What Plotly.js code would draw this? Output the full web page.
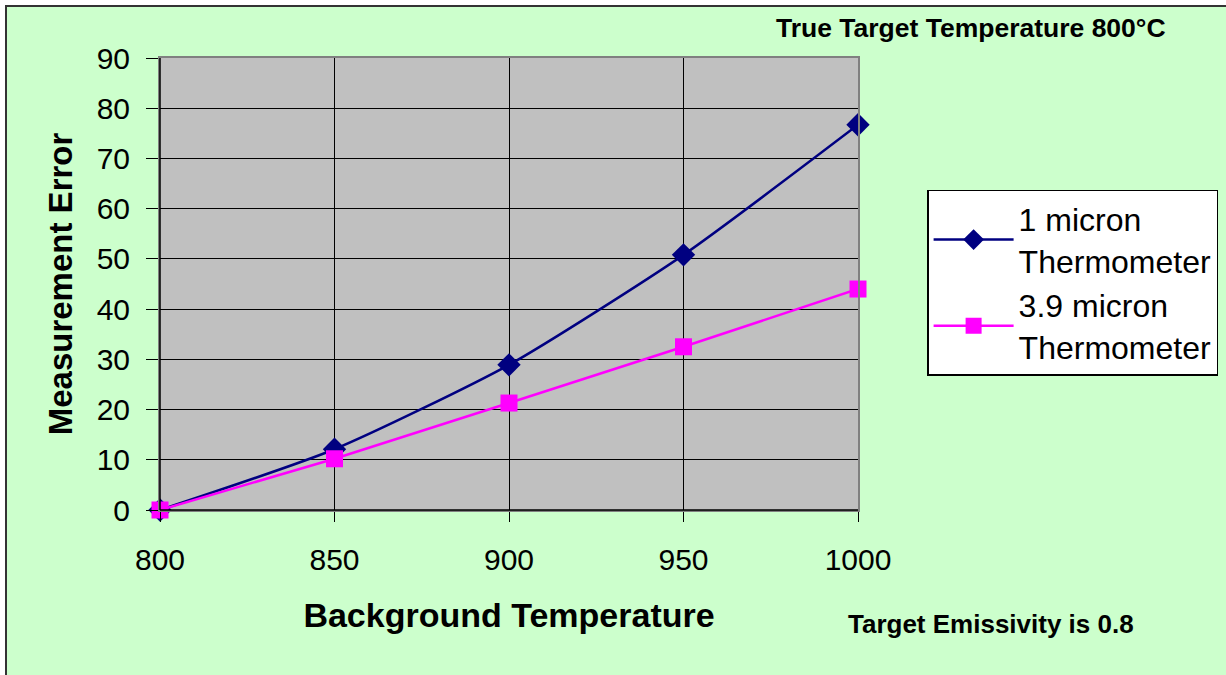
<!DOCTYPE html>
<html>
<head>
<meta charset="utf-8">
<script src="https://cdn.plot.ly/plotly-3.0.1.min.js"></script>
<style>
html,body{margin:0;padding:0;background:#ffffff;}
#frame{position:absolute;left:5px;top:5px;width:1230px;height:680px;background:#CCFFCC;border-left:2px solid #333;border-top:2px solid #333;}
#chart{position:absolute;left:0;top:0;width:1226px;height:675px;}
</style>
</head>
<body>
<div id="frame"></div>
<div id="chart"></div>
<script>
const backgroundTemp = [800, 850, 900, 950, 1000];
const error1Micron = [0, 12.1, 28.9, 50.8, 76.7];
const error39Micron = [0, 10.2, 21.3, 32.5, 44.0];
const seriesNames = ["1 micron<br>Thermometer", "3.9 micron<br>Thermometer"];
const xTicks = [800, 850, 900, 950, 1000];
const yTicks = [0, 10, 20, 30, 40, 50, 60, 70, 80, 90];

const font = "Liberation Sans, Arial, sans-serif";

const traces = [
  {
    x: backgroundTemp, y: error1Micron, name: seriesNames[0],
    type: "scatter", mode: "lines+markers",
    line: {color: "#000080", width: 2.5, shape: "spline", smoothing: 0.6},
    marker: {symbol: "diamond", size: 18, color: "#000080"},
    cliponaxis: false
  },
  {
    x: backgroundTemp, y: error39Micron, name: seriesNames[1],
    type: "scatter", mode: "lines+markers",
    line: {color: "#FF00FF", width: 2.5},
    marker: {symbol: "square", size: 17, color: "#FF00FF"},
    cliponaxis: false
  }
];

const layout = {
  width: 1226, height: 675,
  paper_bgcolor: "rgba(0,0,0,0)",
  plot_bgcolor: "#C0C0C0",
  margin: {l: 160, r: 368, t: 58, b: 165, autoexpand: false},
  font: {family: font, color: "#000"},
  showlegend: true,
  legend: {
    x: 1.099, y: 0.708, xanchor: "left", yanchor: "top",
    bgcolor: "#ffffff", bordercolor: "#000", borderwidth: 1.5,
    font: {family: font, size: 32, color: "#000"},
    itemwidth: 80,
    tracegroupgap: 12
  },
  xaxis: {
    range: [800, 1000], tickvals: xTicks, ticktext: xTicks.map(String),
    showgrid: true, gridcolor: "#000", gridwidth: 1,
    zeroline: false,
    showline: true, linecolor: "#808080", linewidth: 2, mirror: true,
    ticks: "outside", ticklen: 10, tickcolor: "#000", tickwidth: 1,
    ticklabelstandoff: 12,
    tickfont: {family: font, size: 30, color: "#000"},
    title: {text: "<b>Background Temperature</b>", font: {family: font, size: 34, color: "#000"}, standoff: 28}
  },
  yaxis: {
    range: [0, 90], tickvals: yTicks, ticktext: yTicks.map(String),
    showgrid: true, gridcolor: "#000", gridwidth: 1,
    zeroline: false,
    showline: true, linecolor: "#808080", linewidth: 2, mirror: true,
    ticks: "outside", ticklen: 12, tickcolor: "#000", tickwidth: 1,
    ticklabelstandoff: 10,
    tickfont: {family: font, size: 30, color: "#000"},
    title: {text: "<b>Measurement Error</b>", font: {family: font, size: 33, color: "#000"}, standoff: 14}
  },
  annotations: [
    {text: "<b>True Target Temperature 800°C</b>", xref: "paper", yref: "paper",
     x: (971 - 160) / 698, y: (510 - 28) / 452, xanchor: "center", yanchor: "middle",
     showarrow: false, font: {family: font, size: 26.5, color: "#000"}},
    {text: "<b>Target Emissivity is 0.8</b>", xref: "paper", yref: "paper",
     x: (991 - 160) / 698, y: (510 - 624) / 452, xanchor: "center", yanchor: "middle",
     showarrow: false, font: {family: font, size: 26, color: "#000"}}
  ],
  shapes: [
    {type: "line", xref: "paper", yref: "paper", x0: 0, x1: 0, y0: 0, y1: 1,
     line: {color: "#000", width: 1.5}},
    {type: "line", xref: "paper", yref: "paper", x0: 0, x1: 1, y0: 0, y1: 0,
     line: {color: "#000", width: 1.5}}
  ]
};

Plotly.newPlot("chart", traces, layout, {displayModeBar: false, staticPlot: true});
</script>
</body>
</html>
